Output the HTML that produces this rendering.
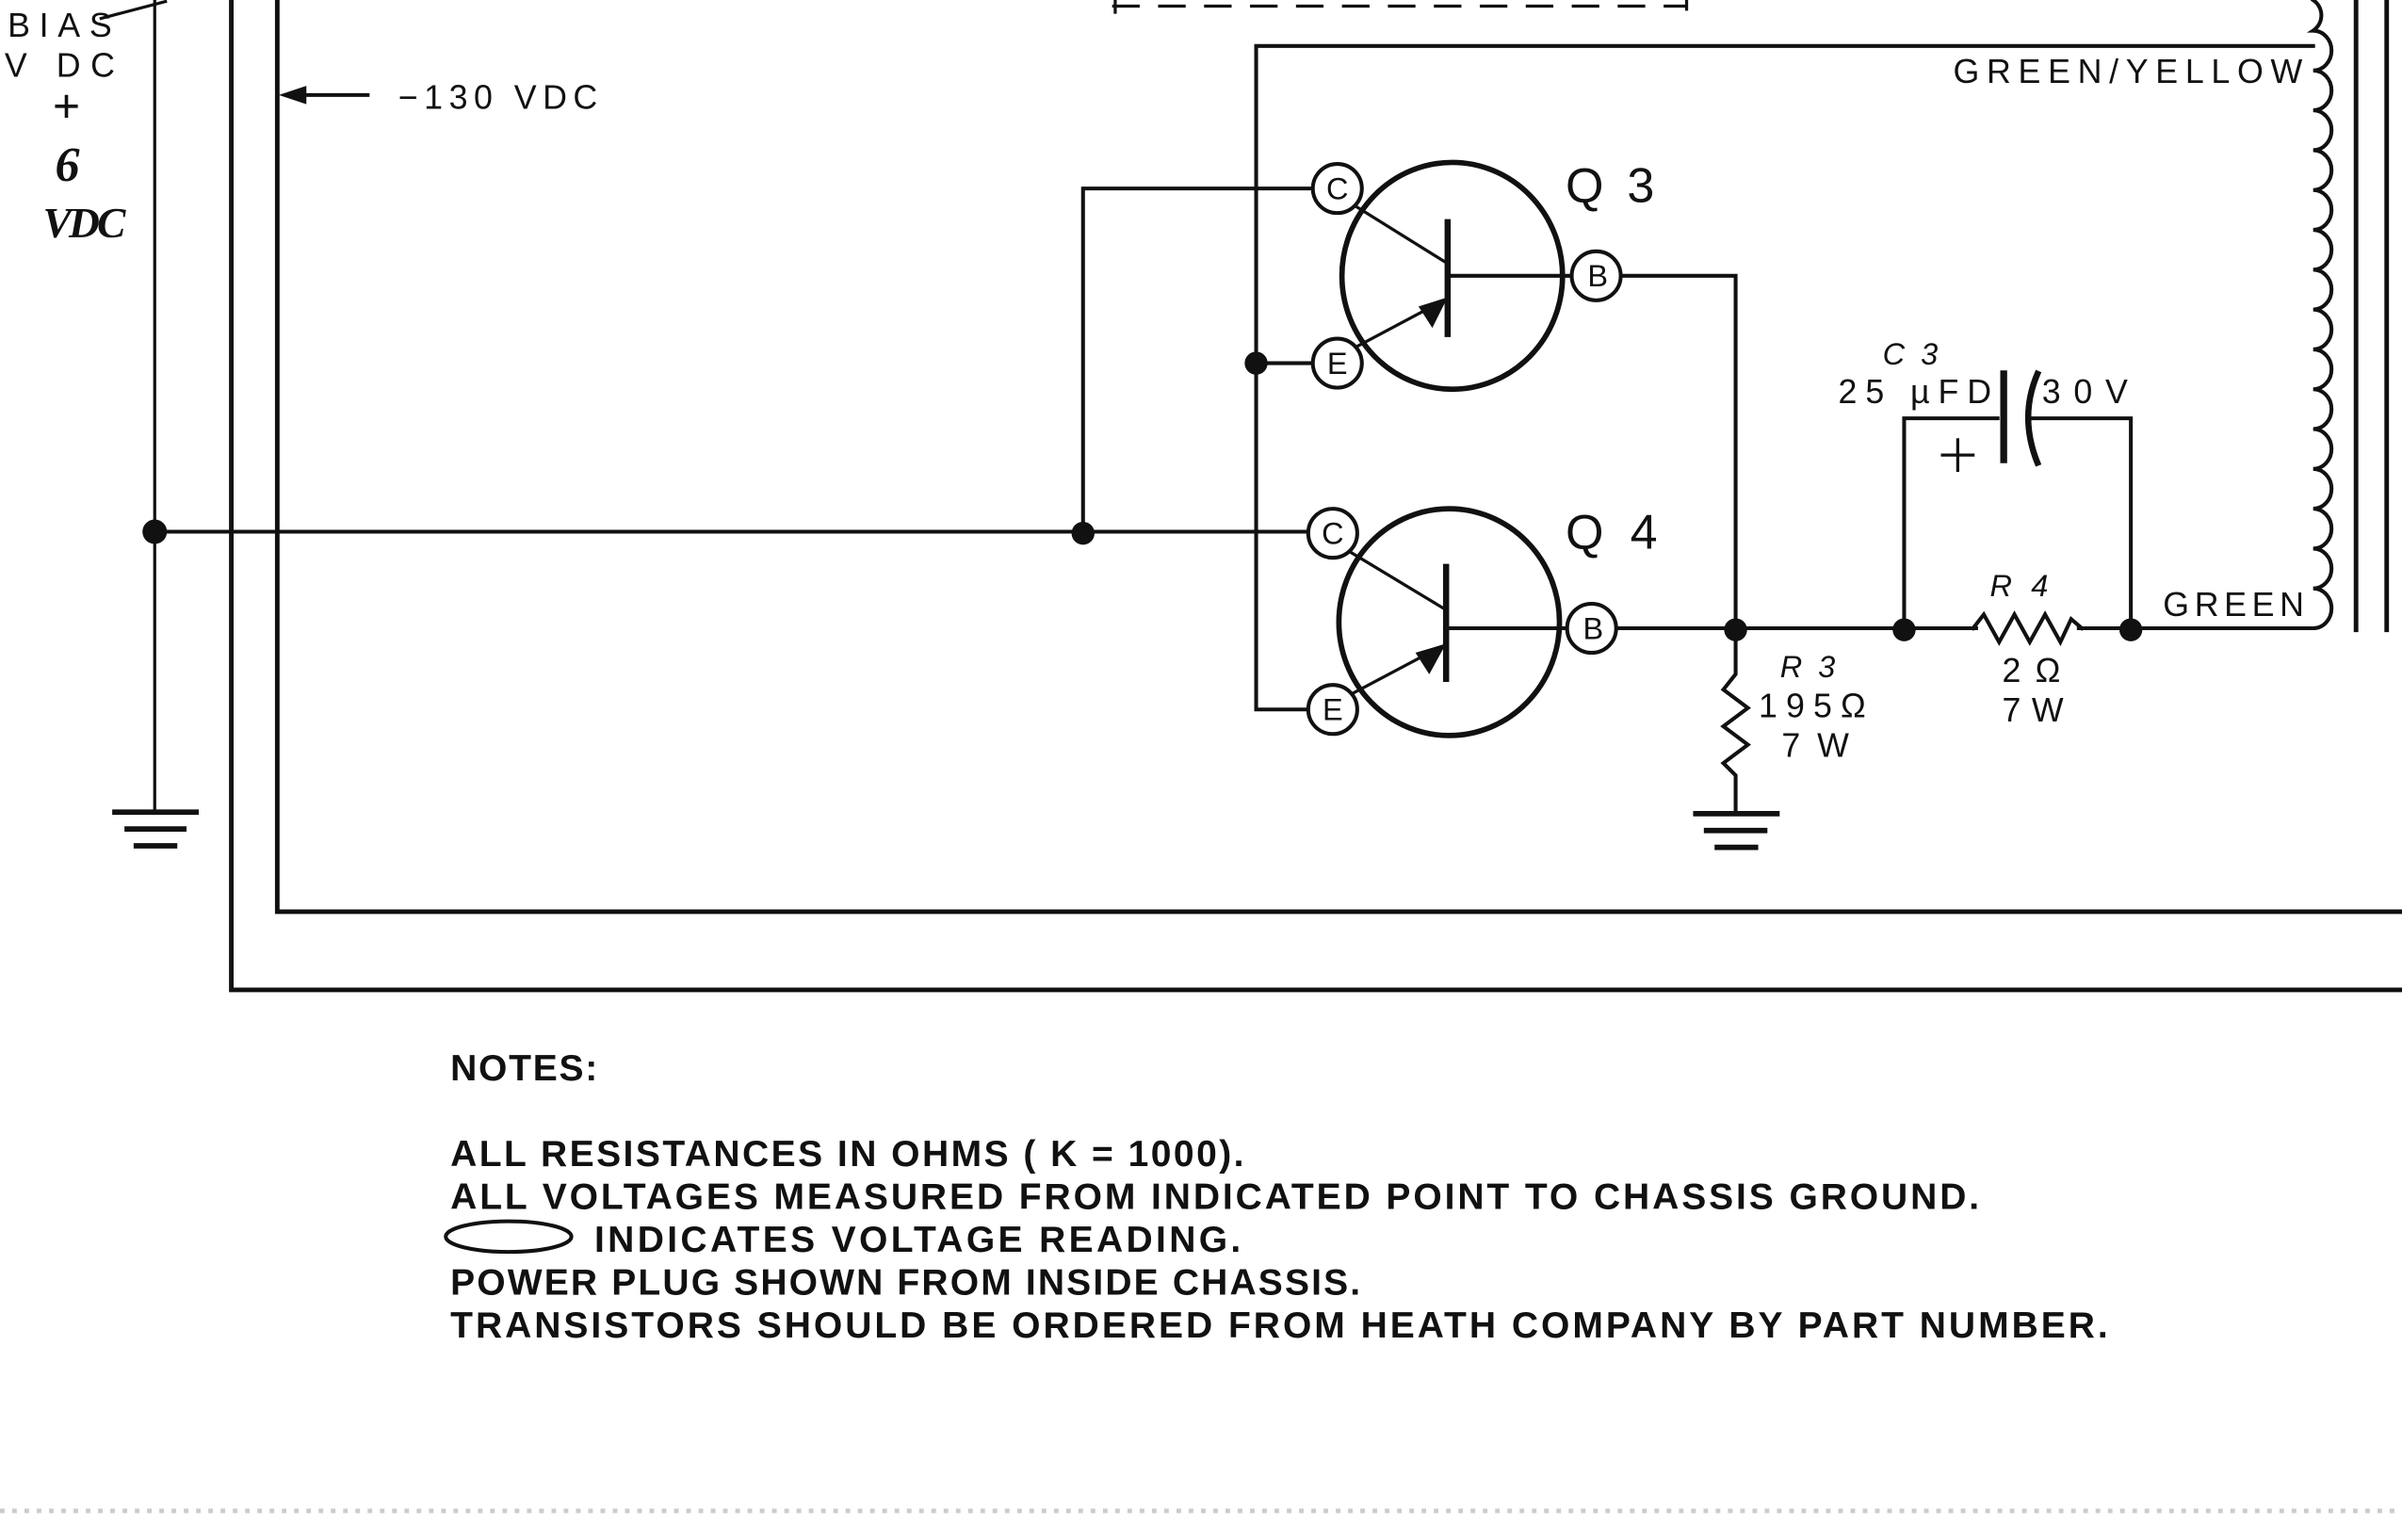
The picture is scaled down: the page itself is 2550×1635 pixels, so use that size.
<!DOCTYPE html>
<html><head><meta charset="utf-8"><style>html,body{margin:0;padding:0;background:#fff}svg{display:block}</style></head>
<body>
<svg width="2550" height="1635" viewBox="0 0 1568 1005" preserveAspectRatio="none" xmlns="http://www.w3.org/2000/svg" font-family="Liberation Sans, sans-serif">
<g stroke="#111" fill="none" stroke-linecap="square">
<!-- bias line -->
<line x1="101" y1="0" x2="101" y2="530" stroke-width="2"/>
<line x1="66" y1="12" x2="108" y2="1" stroke-width="2"/>
<line x1="75" y1="530" x2="128" y2="530" stroke-width="3.5"/>
<line x1="83" y1="541" x2="120" y2="541" stroke-width="3.5"/>
<line x1="89" y1="552" x2="114" y2="552" stroke-width="3.5"/>
<!-- frames -->
<polyline points="151,0 151,646 1568,646" stroke-width="3"/>
<polyline points="181,0 181,595 1568,595" stroke-width="3"/>
<line x1="196" y1="62" x2="240" y2="62" stroke-width="2.5"/>
<!-- main wiring -->
<line x1="101" y1="347" x2="855" y2="347" stroke-width="2.5"/>
<polyline points="707,347 707,123 857,123" stroke-width="2.5"/>
<polyline points="1510,30 820,30 820,463 854,463" stroke-width="2.5"/>
<line x1="820" y1="237" x2="857" y2="237" stroke-width="2.5"/>
<!-- dashed box bottom -->
<line x1="727" y1="4" x2="1100" y2="4" stroke-width="2" stroke-dasharray="16,14"/>
<line x1="728" y1="0" x2="728" y2="8" stroke-width="2"/>
<line x1="1101" y1="0" x2="1101" y2="6" stroke-width="2"/>
<!-- Q3 -->
<ellipse cx="948" cy="180" rx="72" ry="74" stroke-width="3.5"/>
<line x1="945" y1="145" x2="945" y2="218" stroke-width="4"/>
<line x1="945" y1="180" x2="1026" y2="180" stroke-width="2.5"/>
<line x1="884" y1="134" x2="945" y2="172" stroke-width="2"/>
<line x1="886" y1="226" x2="935" y2="200" stroke-width="2"/>
<!-- Q4 -->
<ellipse cx="946" cy="406" rx="72" ry="74" stroke-width="3.5"/>
<line x1="944" y1="370" x2="944" y2="443" stroke-width="4"/>
<line x1="944" y1="410" x2="1023" y2="410" stroke-width="2.5"/>
<line x1="881" y1="360" x2="944" y2="398" stroke-width="2"/>
<line x1="884" y1="452" x2="933" y2="426" stroke-width="2"/>
<!-- B wiring -->
<polyline points="1058,180 1133,180 1133,410" stroke-width="2.5"/>
<line x1="1055" y1="410" x2="1290" y2="410" stroke-width="2.5"/>
<polyline points="1357,410 1510,410" stroke-width="2.5"/>
<!-- R4 zigzag -->
<polyline points="1288,410 1295,401 1305,419 1315,401 1325,419 1335,401 1345,419 1352,404 1359,410" stroke-width="2.5" stroke-linejoin="miter"/>
<!-- R3 -->
<polyline points="1133,410 1133,440 1125,450 1141,462 1125,474 1141,486 1125,498 1133,506 1133,530" stroke-width="2.5"/>
<line x1="1107" y1="531" x2="1160" y2="531" stroke-width="3.5"/>
<line x1="1114" y1="542" x2="1152" y2="542" stroke-width="3.5"/>
<line x1="1121" y1="553" x2="1146" y2="553" stroke-width="3.5"/>
<!-- C3 -->
<polyline points="1243,410 1243,273 1304,273" stroke-width="2.5"/>
<line x1="1308" y1="244" x2="1308" y2="300" stroke-width="4.5"/>
<path d="M1330,244 Q1318,272 1330,302" stroke-width="4"/>
<polyline points="1325,273 1391,273 1391,410" stroke-width="2.5"/>
<line x1="1268" y1="297" x2="1288" y2="297" stroke-width="2"/>
<line x1="1278" y1="287" x2="1278" y2="307" stroke-width="2"/>
<!-- coil -->
<path d="M1510,410 a12,13 0 0 0 0,-26 a12,13 0 0 0 0,-26 a12,13 0 0 0 0,-26 a12,13 0 0 0 0,-26 a12,13 0 0 0 0,-26 a12,13 0 0 0 0,-26 a12,13 0 0 0 0,-26 a12,13 0 0 0 0,-26 a12,13 0 0 0 0,-26 a12,13 0 0 0 0,-26 a12,13 0 0 0 0,-26 a12,13 0 0 0 0,-26 a12,13 0 0 0 0,-26 a12,13 0 0 0 0,-26 a12,13 0 0 0 0,-26 a12,12 0 0 0 0,-20" stroke-width="2.5"/>
<line x1="1538" y1="0" x2="1538" y2="411" stroke-width="3"/>
<line x1="1558" y1="0" x2="1558" y2="411" stroke-width="3"/>
<!-- notes ellipse -->
<ellipse cx="332" cy="807" rx="41" ry="10" stroke-width="2.5"/>
</g>
<!-- arrowheads & dots -->
<g fill="#111">
<polygon points="182,62 200,56 200,68"/>
<polygon points="945,194 926,200 935,214"/>
<polygon points="944,420 924,426 933,440"/>
<circle cx="101" cy="347" r="8"/>
<circle cx="707" cy="348" r="7.5"/>
<circle cx="820" cy="237" r="7.5"/>
<circle cx="1133" cy="411" r="7.5"/>
<circle cx="1243" cy="411" r="7.5"/>
<circle cx="1391" cy="411" r="7.5"/>
</g>
<!-- pin circles -->
<g fill="#fff" stroke="#111" stroke-width="2.5">
<circle cx="873" cy="123" r="16"/><circle cx="873" cy="237" r="16"/><circle cx="1042" cy="180" r="16"/>
<circle cx="870" cy="348" r="16"/><circle cx="870" cy="463" r="16"/><circle cx="1039" cy="410" r="16"/>
</g>
<g fill="#111" font-size="20" text-anchor="middle">
<text x="873" y="130">C</text><text x="873" y="244">E</text><text x="1043" y="187">B</text>
<text x="870" y="355">C</text><text x="870" y="470">E</text><text x="1040" y="417">B</text>
</g>
<g fill="#111" font-size="22">
<text x="5" y="24" textLength="68">BIAS</text>
<text x="3" y="50" textLength="72">V DC</text>
<text x="260" y="71" textLength="130">−130 VDC</text>
<text x="1275" y="54" textLength="228">GREEN/YELLOW</text>
<text x="1412" y="402" textLength="92">GREEN</text>
<text x="1022" y="132" font-size="32" textLength="58">Q3</text>
<text x="1022" y="358" font-size="32" textLength="60">Q4</text>
<text x="1229" y="238" font-style="italic" font-size="20" textLength="36">C3</text>
<text x="1200" y="263" textLength="100">25 µFD</text>
<text x="1333" y="263" textLength="56">30V</text>
<text x="1299" y="389" font-style="italic" font-size="20" textLength="38">R4</text>
<text x="1307" y="445" textLength="38">2Ω</text>
<text x="1307" y="471" textLength="40">7W</text>
<text x="1162" y="442" font-style="italic" font-size="20" textLength="36">R3</text>
<text x="1148" y="468" textLength="70">195Ω</text>
<text x="1163" y="494" textLength="44">7W</text>
</g>
<g fill="#111" font-family="Liberation Serif, serif" font-style="italic" font-weight="bold">
<text x="34" y="80" font-size="32">+</text>
<text x="36" y="118" font-size="32">6</text>
<text x="28" y="155" font-size="28" textLength="54">VDC</text>
</g>
<g fill="#111" font-size="24" font-weight="bold">
<text x="294" y="705" textLength="96">NOTES:</text>
<text x="294" y="761" textLength="518">ALL RESISTANCES IN OHMS ( K = 1000).</text>
<text x="294" y="789" textLength="998">ALL VOLTAGES MEASURED FROM INDICATED POINT TO CHASSIS GROUND.</text>
<text x="388" y="817" textLength="422">INDICATES VOLTAGE READING.</text>
<text x="294" y="845" textLength="594">POWER PLUG SHOWN FROM INSIDE CHASSIS.</text>
<text x="294" y="873" textLength="1082">TRANSISTORS SHOULD BE ORDERED FROM HEATH COMPANY BY PART NUMBER.</text>
</g>
<line x1="0" y1="986" x2="1568" y2="986" stroke="#ccc" stroke-width="3" stroke-dasharray="3,5"/>
</svg>
</body></html>
